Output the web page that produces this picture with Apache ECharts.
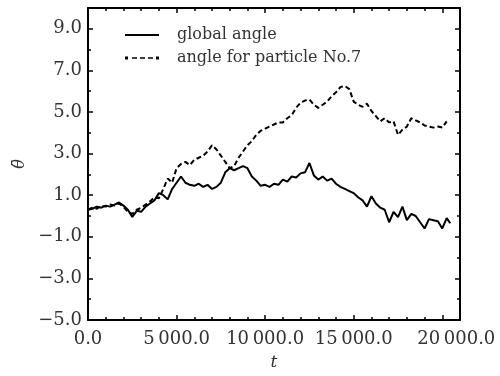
<!DOCTYPE html>
<html>
<head>
<meta charset="utf-8">
<script src="https://cdn.jsdelivr.net/npm/echarts@6/dist/echarts.min.js"></script>
<style>html,body{margin:0;padding:0;background:#fff;}#c{width:500px;height:376px;}</style>
</head>
<body>
<div id="c"></div>
<script>
var tValues = [0,250,500,750,1000,1250,1500,1750,2000,2250,2500,2750,3000,3250,3500,3750,4000,4250,4500,4750,5000,5250,5500,5750,6000,6250,6500,6750,7000,7250,7500,7750,8000,8250,8500,8750,9000,9250,9500,9750,10000,10250,10500,10750,11000,11250,11500,11750,12000,12250,12500,12750,13000,13250,13500,13750,14000,14250,14500,14750,15000,15250,15500,15750,16000,16250,16500,16750,17000,17250,17500,17750,18000,18250,18500,18750,19000,19250,19500,19750,20000,20250,20450];
var globalAngle = [0.3,0.35,0.45,0.4,0.5,0.45,0.55,0.65,0.5,0.3,-0.05,0.25,0.2,0.45,0.6,0.75,1.1,1.0,0.8,1.3,1.6,1.9,1.6,1.5,1.45,1.55,1.4,1.5,1.3,1.4,1.6,2.1,2.3,2.2,2.3,2.4,2.3,1.9,1.7,1.45,1.5,1.4,1.55,1.5,1.75,1.65,1.9,1.85,2.05,2.1,2.55,1.95,1.75,1.9,1.7,1.8,1.55,1.4,1.3,1.2,1.1,0.9,0.75,0.45,0.95,0.6,0.4,0.3,-0.3,0.2,-0.05,0.45,-0.2,0.1,0.0,-0.3,-0.6,-0.15,-0.2,-0.25,-0.6,-0.1,-0.35];
var particleAngle = [0.3,0.4,0.35,0.5,0.45,0.55,0.5,0.6,0.45,0.2,0.1,0.3,0.4,0.55,0.7,0.9,0.85,1.3,1.8,1.6,2.3,2.5,2.6,2.45,2.7,2.8,2.9,3.1,3.4,3.2,2.9,2.6,2.3,2.4,2.8,3.1,3.4,3.6,3.9,4.1,4.2,4.3,4.4,4.5,4.5,4.7,4.85,5.2,5.45,5.55,5.6,5.35,5.2,5.35,5.5,5.75,5.95,6.2,6.25,6.1,5.5,5.35,5.25,5.4,5.05,4.8,4.55,4.7,4.5,4.55,3.9,4.15,4.3,4.7,4.6,4.5,4.35,4.3,4.25,4.3,4.25,4.55];
var seriesNames = ['global angle', 'angle for particle No.7'];
var xTicks = [0, 5000, 10000, 15000, 20000];
var yTicks = [-5, -3, -1, 1, 3, 5, 7, 9];

function pairs(xs, ys) { var out = []; for (var i = 0; i < ys.length; i++) out.push([xs[i], ys[i]]); return out; }
var FONT = 'DejaVu Serif';
function fmtX(v) {
  if (xTicks.indexOf(v) < 0) return '';
  var s = Math.round(v).toString();
  if (s.length > 3) s = s.slice(0, s.length - 3) + '\u2009' + s.slice(s.length - 3);
  s = s + '.0';
  if (v === xTicks[xTicks.length - 1]) return '{last|' + s + '}';
  return s;
}
function fmtY(v) {
  if (yTicks.indexOf(v) < 0) return '';
  return v.toFixed(1).replace('-', '\u2212');
}
var solidIcon = 'path://M0,0.5 L34,0.5 L34,2.5 L0,2.5 Z';
var dashIcon = 'path://M0,0 L3,0 L3,3 L0,3 Z M7,0.75 L12,0.75 L12,2.25 L7,2.25 Z M15,0.75 L20,0.75 L20,2.25 L15,2.25 Z M23,0.75 L28,0.75 L28,2.25 L23,2.25 Z M31,0 L34,0 L34,3 L31,3 Z';
var axisLineStyle = { color: '#000', width: 2 };
var tickStyle = { color: '#000', width: 1.5 };
var chart = echarts.init(document.getElementById('c'));
chart.setOption({
  animation: false,
  backgroundColor: '#fff',
  grid: { left: 88, right: 40, top: 8, bottom: 55 },
  legend: {
    orient: 'vertical', left: 120, top: 21, itemWidth: 34, itemHeight: 14, itemGap: 5,
    textStyle: { fontFamily: FONT, fontSize: 16, lineHeight: 18, color: '#333', padding: [0, 0, 0, 13] },
    data: [{ name: seriesNames[0], icon: solidIcon }, { name: seriesNames[1], icon: dashIcon }]
  },
  xAxis: [{
    type: 'value', min: 0, max: 21000, interval: 5000, position: 'bottom',
    name: 't', nameLocation: 'middle', nameGap: 34,
    nameTextStyle: { fontFamily: FONT, fontStyle: 'italic', fontSize: 17, color: '#333' },
    axisLine: { onZero: false, lineStyle: axisLineStyle },
    axisTick: { inside: true, length: 5, lineStyle: tickStyle },
    minorTick: { show: true, splitNumber: 5, length: 3, lineStyle: tickStyle },
    axisLabel: { formatter: fmtX, fontFamily: FONT, fontSize: 18, color: '#333', margin: 10,
      rich: { last: { fontFamily: FONT, fontSize: 18, color: '#333', padding: [0, 0, 0, 28] } } },
    splitLine: { show: false }, minorSplitLine: { show: false }
  }, {
    type: 'value', min: 0, max: 21000, interval: 5000, position: 'top',
    axisLine: { onZero: false, lineStyle: axisLineStyle },
    axisTick: { inside: true, length: 5, lineStyle: tickStyle },
    minorTick: { show: true, splitNumber: 5, length: 3, lineStyle: tickStyle },
    axisLabel: { show: false }, splitLine: { show: false }
  }],
  yAxis: [{
    type: 'value', min: -5, max: 10, interval: 2, position: 'left',
    name: '\u03b8\u0304', nameLocation: 'middle', nameGap: 56, nameRotate: 90,
    nameTextStyle: { fontFamily: FONT, fontStyle: 'italic', fontSize: 16, color: '#333' },
    axisLine: { show: true, onZero: false, lineStyle: axisLineStyle },
    axisTick: { show: true, inside: true, length: 5, lineStyle: tickStyle },
    minorTick: { show: true, splitNumber: 2, length: 3, lineStyle: tickStyle },
    axisLabel: { formatter: fmtY, fontFamily: FONT, fontSize: 18, color: '#333', margin: 6 },
    splitLine: { show: false }, minorSplitLine: { show: false }
  }, {
    type: 'value', min: -5, max: 10, interval: 2, position: 'right',
    axisLine: { show: true, onZero: false, lineStyle: axisLineStyle },
    axisTick: { show: true, inside: true, length: 5, lineStyle: tickStyle },
    minorTick: { show: true, splitNumber: 2, length: 3, lineStyle: tickStyle },
    axisLabel: { show: false }, splitLine: { show: false }
  }],
  series: [{
    name: seriesNames[0], type: 'line', xAxisIndex: 0, yAxisIndex: 0,
    data: pairs(tValues, globalAngle), symbol: 'none',
    lineStyle: { color: '#000', width: 2 }, itemStyle: { color: '#000' }
  }, {
    name: seriesNames[1], type: 'line', xAxisIndex: 0, yAxisIndex: 0,
    data: pairs(tValues, particleAngle), symbol: 'none',
    lineStyle: { color: '#000', width: 2, type: [5, 3] }, itemStyle: { color: '#000' }
  }]
});
</script>
</body>
</html>
